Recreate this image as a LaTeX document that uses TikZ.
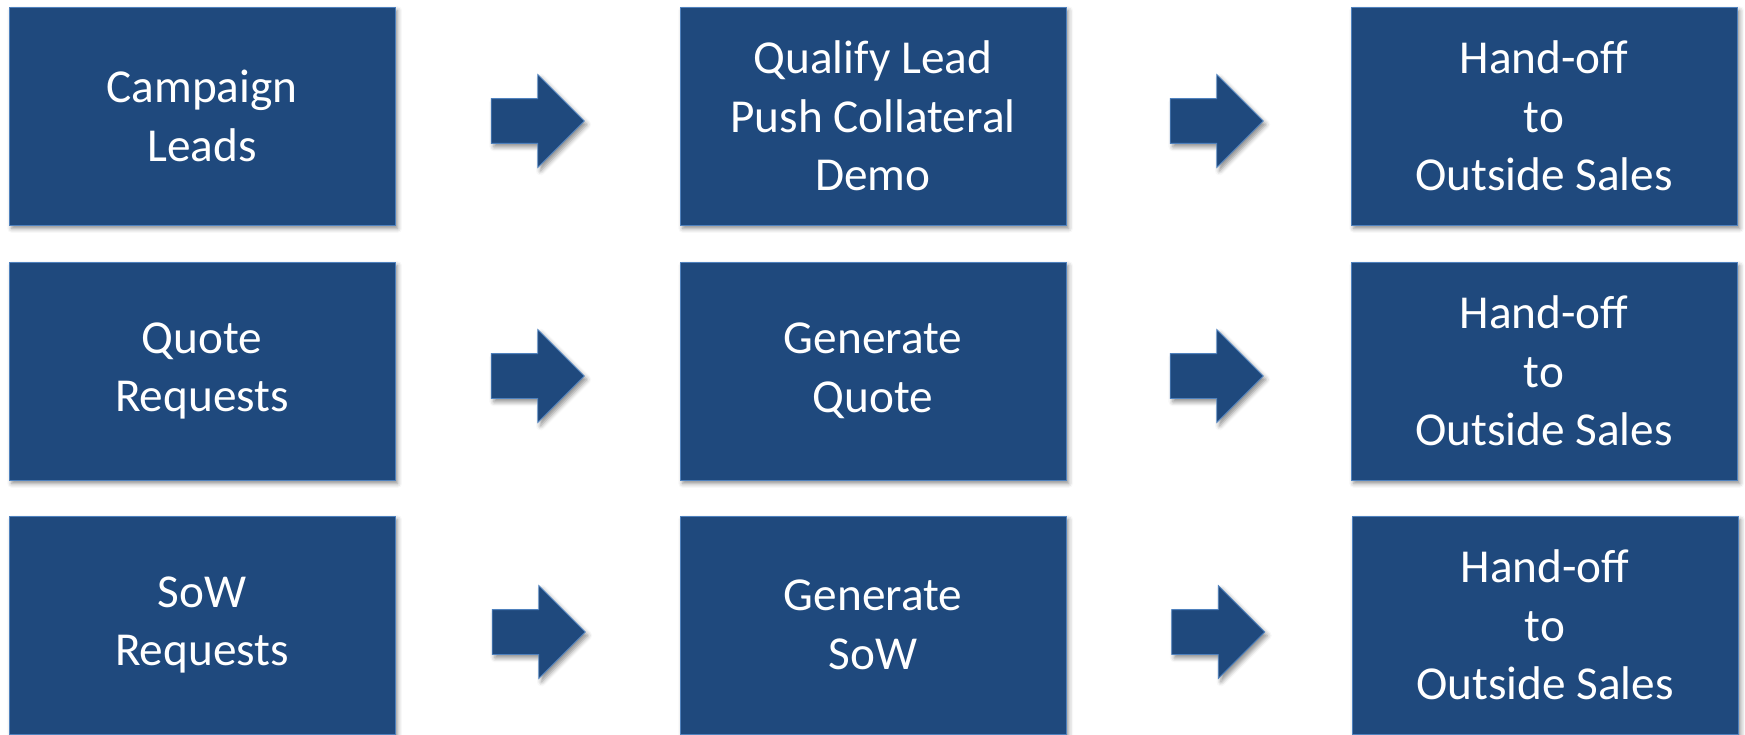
\documentclass[tikz,border=0pt]{standalone}
\usepackage{fontspec}
\setmainfont{Carlito}
\usetikzlibrary{calc,positioning,shadows.blur,shapes.arrows}
\definecolor{StageFill}{HTML}{1F497D}
\definecolor{StageEdge}{HTML}{4F81BD}

\begin{document}
\begin{tikzpicture}[x=0.02cm, y=-0.02cm,
                    shade/.style = { blur shadow={shadow xshift=1.5pt, shadow yshift=-2pt, shadow blur radius=2.5pt, shadow opacity=45} },
                    stage/.style = { shade, fill=StageFill, draw=StageEdge, line width=0.5pt, text=white,
                                     align=center, inner sep=0pt, minimum width=7.72cm, minimum height=4.36cm,
                                     font=\fontsize{26.9pt}{33.3pt}\selectfont },
                    flow/.style = { shade, single arrow, fill=StageFill, draw=StageEdge, line width=0.5pt,
                                    inner xsep=0pt, inner ysep=0.44cm, minimum height=1.86cm, minimum width=1.84cm,
                                    single arrow head extend=0.48cm, single arrow head indent=0pt }]

  \useasboundingbox (0,0) rectangle (1745,734);

  % first row
  \node[stage] (campaign) at(202, 116)   {Campaign\\Leads};
  \node[stage] (qualify)  at(873, 116)   {Qualify Lead\\Push Collateral\\Demo};
  \node[stage] (handoffA) at(1544, 116)  {Hand-off\\to\\Outside Sales};

  % second row
  \node[stage] (quote)    at(202, 371)   {Quote\\Requests};
  \node[stage] (genquote) at(873, 371)   {Generate\\Quote};
  \node[stage] (handoffB) at(1544, 371)  {Hand-off\\to\\Outside Sales};

  % third row
  \node[stage] (sow)      at(202, 625)   {SoW\\Requests};
  \node[stage] (gensow)   at(873, 625)   {Generate\\SoW};
  \node[stage] (handoffC) at(1545, 625)  {Hand-off\\to\\Outside Sales};

  \node[flow] (toqualify)  at($(campaign.east)!0.5!(qualify.west)+(-11,5)$)  {};
  \node[flow] (tohandoffA) at($(qualify.east)!0.5!(handoffA.west)+(-3,5)$)   {};
  \node[flow] (togenquote) at($(quote.east)!0.5!(genquote.west)+(-11,5)$)    {};
  \node[flow] (tohandoffB) at($(genquote.east)!0.5!(handoffB.west)+(-3,5)$)  {};
  \node[flow] (togensow)   at($(sow.east)!0.5!(gensow.west)+(-10,7)$)        {};
  \node[flow] (tohandoffC) at($(gensow.east)!0.5!(handoffC.west)+(-2,7)$)    {};
\end{tikzpicture}
\end{document}
